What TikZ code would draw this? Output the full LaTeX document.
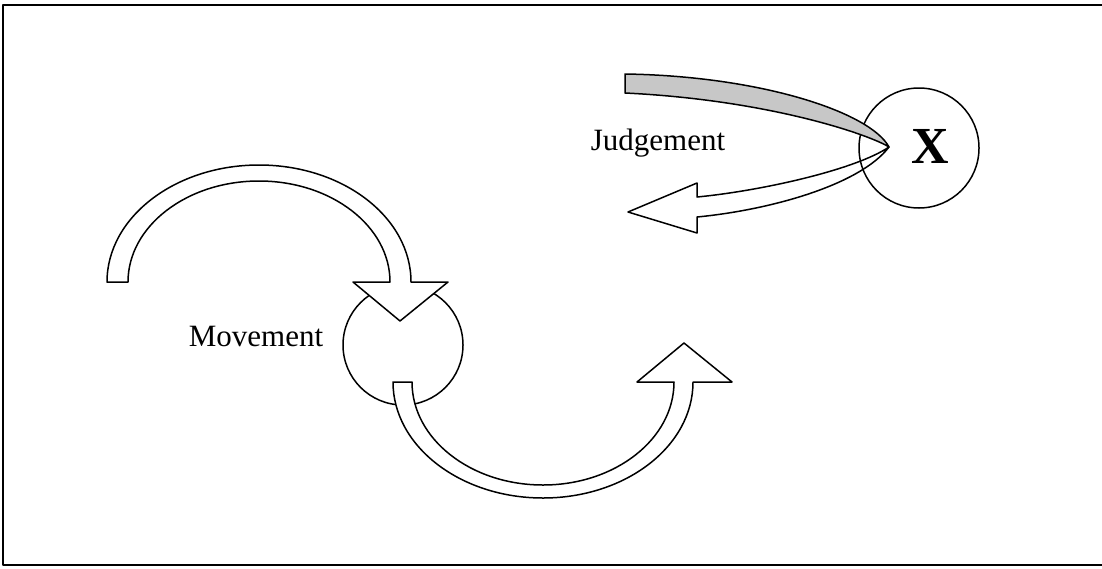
\documentclass[tikz,border=0pt]{standalone}
\usepackage{fontspec}
\setmainfont{Liberation Serif}
\begin{document}
\begin{tikzpicture}[x=1pt,y=-1pt,line cap=round,line join=round,line width=1.5pt,
	ring/.style={draw,circle,minimum size=120pt,inner sep=0pt},
	wordtext/.style={font=\fontsize{31}{36}\selectfont,inner sep=0pt,anchor=base}]
	\useasboundingbox (0,0) rectangle (1102,568);
	\fill[white] (0,0) rectangle (1102,568);
	\clip (0,0) rectangle (1102,568);
	% frame
	\draw[line width=2pt] (3,5) rectangle (1115,565);
	% circles
	\node[ring] (xring) at (919,148) {};
	\node[font=\bfseries\fontsize{52}{60}\selectfont,inner sep=0pt,anchor=base] (xmark) at (930,163) {X};
	\node[ring] (movering) at (403,345) {};
	% labels
	\node[wordtext] (judgement) at (658,150) {Judgement};
	\node[wordtext] (movement) at (256,346) {Movement};
	% judgement ribbon, grey back side
	\draw[fill=black!22] (625,74) .. controls (760,76) and (870,112) .. (889,147)
		.. controls (870,135) and (770,100) .. (625,93) -- cycle;
	% judgement ribbon, front side with head
	\draw (889,147) .. controls (855,170) and (760,191) .. (697,197) -- (697,183) -- (628,212)
		-- (697,233) -- (697,217) .. controls (770,210) and (860,185) .. (889,147);
	% upper arrow into movement
	\draw[fill=white] (107,282) arc[start angle=180,end angle=360,x radius=152,y radius=117]
		-- (448,282) -- (400,321) -- (353,282) -- (390,282)
		arc[start angle=360,end angle=180,x radius=131,y radius=101] -- cycle;
	% lower arrow out of movement
	\draw[fill=white] (393,382) arc[start angle=180,end angle=0,x radius=150,y radius=116]
		-- (732,382) -- (684,343) -- (637,382) -- (674,382)
		arc[start angle=0,end angle=180,x radius=131,y radius=103] -- cycle;
\end{tikzpicture}
\end{document}
